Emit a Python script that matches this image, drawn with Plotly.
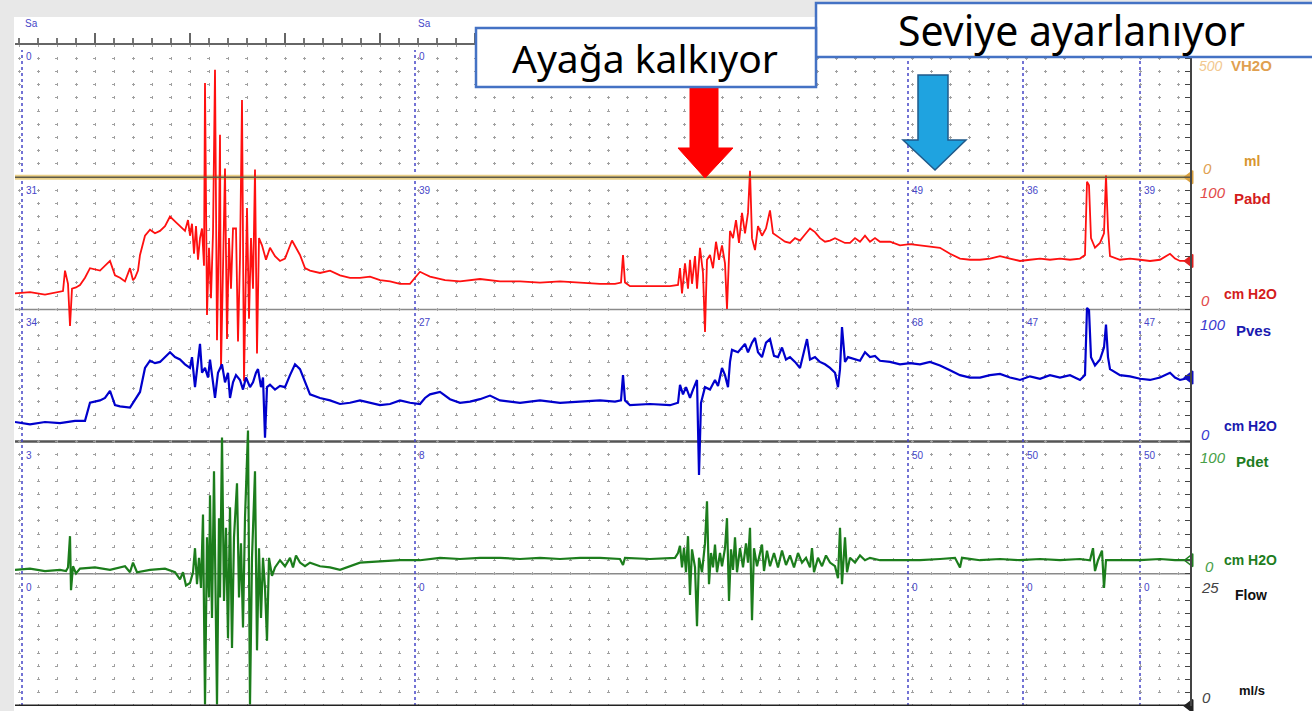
import plotly.graph_objects as go

# ---- data (time in s, pressures in cm H2O) ----
pabd_t = [1.5, 3.0, 4.5, 6.0, 6.3, 6.5, 6.8, 7.0, 7.2, 7.6,
          8.0, 8.5, 9.0, 10.0, 10.5, 11.0, 11.5, 12.0, 12.5, 12.8,
          13.0, 13.3, 13.5, 13.8, 14.0, 14.5, 15.0, 15.5, 16.0, 16.5,
          17.0, 17.5, 18.0, 18.5, 18.8, 19.0, 19.2, 19.4, 19.6, 19.8,
          20.0, 20.2, 20.4, 20.5, 20.7, 20.9, 21.1, 21.3, 21.5, 21.7,
          21.9, 22.0, 22.1, 22.3, 22.5, 22.7, 22.9, 23.1, 23.3, 23.6,
          23.8, 24.0, 24.2, 24.4, 24.6, 24.7, 24.9, 25.1, 25.3, 25.5,
          25.7, 25.9, 26.2, 26.6, 27.0, 27.5, 28.0, 28.5, 29.2, 29.6,
          30.0, 30.5, 31.0, 32.0, 33.0, 34.0, 35.0, 36.0, 37.0, 38.0,
          39.0, 40.0, 41.0, 41.5, 42.0, 42.5, 43.0, 44.5, 46.0, 48.0,
          50.0, 52.0, 54.0, 56.0, 58.0, 60.0, 61.5, 62.1, 62.3, 62.5,
          63.0, 65.0, 67.0, 67.8, 68.0, 68.2, 68.5, 68.8, 69.0, 69.2,
          69.5, 69.7, 70.0, 70.3, 70.5, 70.7, 71.0, 71.3, 71.6, 71.9,
          72.2, 72.5, 72.7, 73.0, 73.3, 73.6, 73.9, 74.2, 74.5, 74.8,
          75.0, 75.2, 75.5, 75.8, 76.2, 76.6, 77.0, 77.3, 77.6, 78.0,
          78.5, 79.0, 79.5, 80.0, 80.5, 81.0, 81.5, 82.0, 82.5, 83.0,
          83.5, 84.0, 84.5, 85.0, 85.5, 86.0, 86.5, 87.0, 87.5, 88.0,
          89.0, 90.0, 91.0, 92.0, 93.0, 94.0, 95.0, 96.0, 97.0, 98.0,
          99.0, 100.0, 101.0, 102.0, 103.0, 104.0, 105.0, 106.0, 107.0, 108.0,
          108.5, 108.7, 108.9, 109.1, 109.5, 110.0, 110.4, 110.6, 110.8, 111.0,
          112.0, 113.0, 114.0, 115.0, 116.0, 117.0, 117.5, 118.0, 119.0]
pabd = [5, 6, 4, 6, 7, 24, 13, -22, 9, 10,
        12, 18, 26, 24, 28, 32, 20, 18, 15, 22,
        26, 16, 18, 24, 37, 53, 58, 55, 57, 61,
        69, 65, 61, 57, 66, 53, 63, 38, 61, 33,
        51, 59, 28, 180, -13, 43, 1, 55, 191, -34,
        59, 137, -58, 43, 109, -33, 51, 9, 59, 59,
        -35, 34, 166, -68, 43, 76, -16, 51, 9, 108,
        -45, 51, 45, 33, 43, 36, 32, 34, 49, 43,
        37, 26, 24, 22, 24, 20, 18, 18, 19, 16,
        15, 13, 13, 18, 23, 21, 19, 16, 15, 17,
        15, 15, 14, 15, 14, 13, 13, 14, 37, 14,
        11, 11, 11, 12, 26, 5, 30, 9, 33, 13,
        36, 9, 43, 22, -27, 33, 37, 26, 48, 33,
        45, 30, -8, 57, 51, 66, 47, 72, 55, 72,
        107, 51, 41, 61, 53, 59, 74, 55, 53, 51,
        48, 47, 51, 49, 54, 59, 56, 51, 48, 49,
        51, 49, 47, 47, 51, 48, 53, 48, 51, 48,
        48, 45, 46, 45, 44, 43, 38, 34, 33, 33,
        34, 36, 34, 32, 33, 34, 33, 34, 33, 34,
        37, 98, 95, 51, 43, 47, 55, 103, 59, 36,
        33, 34, 33, 32, 33, 38, 34, 32, 32]

pves_t = [1.5, 3.0, 4.5, 6.0, 7.5, 8.5, 9.0, 10.0, 10.5, 11.0,
          11.5, 12.0, 13.0, 13.5, 14.0, 14.5, 15.0, 15.5, 16.0, 17.0,
          17.5, 18.0, 18.5, 19.0, 19.2, 19.5, 19.8, 20.0, 20.2, 20.5,
          20.8, 21.0, 21.3, 21.5, 21.8, 22.2, 22.5, 22.8, 23.0, 23.3,
          23.6, 24.0, 24.3, 24.6, 25.0, 25.3, 25.6, 25.8, 26.1, 26.3,
          26.5, 26.7, 27.0, 27.5, 28.0, 28.5, 29.0, 29.5, 30.0, 30.5,
          31.0, 32.0, 33.0, 34.0, 35.0, 36.0, 37.0, 38.0, 39.0, 40.0,
          41.0, 42.0, 42.5, 43.0, 44.0, 45.0, 46.0, 47.0, 48.0, 49.0,
          50.0, 52.0, 54.0, 56.0, 58.0, 60.0, 61.5, 62.1, 62.3, 62.5,
          63.0, 65.0, 67.0, 67.8, 68.0, 68.3, 68.6, 69.0, 69.3, 69.7,
          69.9, 70.1, 70.5, 71.0, 71.5, 71.8, 72.2, 72.5, 72.8, 73.0,
          73.2, 73.8, 74.5, 74.8, 75.2, 75.5, 75.8, 76.2, 76.6, 77.0,
          77.4, 77.8, 78.2, 78.6, 79.0, 79.5, 80.0, 80.4, 80.7, 81.0,
          81.5, 82.0, 82.5, 83.0, 83.5, 83.8, 84.0, 84.2, 84.5, 84.8,
          85.5, 86.0, 86.5, 87.0, 87.5, 88.0, 89.0, 90.0, 91.0, 92.0,
          93.0, 94.0, 95.0, 96.0, 97.0, 98.0, 99.0, 100.0, 101.0, 102.0,
          103.0, 104.0, 105.0, 106.0, 107.0, 108.0, 108.5, 108.7, 108.9, 109.1,
          109.5, 110.0, 110.4, 110.6, 110.8, 111.0, 112.0, 113.0, 114.0, 115.0,
          116.0, 117.0, 117.5, 118.0, 119.0]
pves = [8, 6, 8, 7, 9, 9, 24, 26, 28, 34,
        22, 21, 20, 26, 33, 53, 59, 57, 58, 66,
        62, 60, 56, 53, 62, 37, 58, 73, 49, 53,
        45, 60, 41, 28, 49, 56, 41, 49, 28, 41,
        47, 43, 35, 45, 37, 41, 49, 52, 37, 45,
        -5, 37, 39, 35, 38, 37, 47, 56, 52, 41,
        31, 28, 26, 23, 24, 26, 24, 22, 23, 26,
        24, 23, 28, 31, 33, 27, 24, 25, 27, 30,
        26, 24, 26, 24, 25, 26, 25, 26, 47, 26,
        22, 23, 22, 24, 39, 31, 37, 28, 35, 43,
        -36, 24, 37, 35, 43, 38, 53, 47, 37, 58,
        68, 66, 73, 66, 74, 78, 66, 62, 74, 77,
        63, 62, 70, 60, 62, 58, 53, 66, 77, 60,
        62, 58, 56, 53, 49, 37, 52, 87, 58, 62,
        60, 59, 66, 62, 63, 59, 58, 56, 57, 56,
        58, 55, 51, 47, 45, 45, 47, 48, 45, 43,
        46, 44, 47, 45, 47, 43, 47, 103, 101, 62,
        55, 60, 70, 89, 62, 52, 47, 46, 44, 43,
        45, 49, 45, 43, 45]

pdet_t = [1.5, 3.0, 4.5, 6.0, 6.6, 6.8, 7.0, 7.1, 7.3, 7.6,
          8.0, 9.5, 11.0, 12.5, 13.0, 13.3, 13.7, 15.0, 16.5, 17.5,
          18.0, 18.3, 18.6, 19.0, 19.3, 19.5, 19.7, 19.9, 20.1, 20.3,
          20.5, 20.7, 20.9, 21.0, 21.2, 21.4, 21.7, 21.9, 22.0, 22.2,
          22.4, 22.6, 22.8, 23.0, 23.2, 23.4, 23.7, 23.9, 24.1, 24.3,
          24.5, 24.8, 25.0, 25.2, 25.5, 25.7, 25.9, 26.1, 26.3, 26.5,
          26.7, 26.9, 27.2, 27.5, 28.0, 28.5, 29.0, 29.3, 29.6, 30.0,
          30.5, 31.0, 32.0, 33.0, 34.0, 35.0, 36.0, 38.0, 40.0, 42.0,
          44.0, 46.0, 48.0, 50.0, 52.0, 54.0, 56.0, 58.0, 60.0, 62.0,
          62.3, 62.5, 65.0, 67.5, 67.8, 68.0, 68.2, 68.4, 68.6, 68.8,
          69.0, 69.2, 69.5, 69.7, 69.9, 70.2, 70.5, 70.7, 70.9, 71.1,
          71.3, 71.5, 71.7, 72.0, 72.2, 72.5, 72.7, 72.9, 73.1, 73.3,
          73.5, 73.7, 74.0, 74.3, 74.6, 74.8, 75.0, 75.2, 75.4, 75.7,
          76.0, 76.2, 76.4, 76.7, 77.0, 77.4, 77.8, 78.2, 78.6, 79.0,
          79.4, 79.8, 80.2, 80.6, 81.0, 81.2, 81.4, 81.8, 82.2, 82.6,
          83.0, 83.5, 83.8, 84.0, 84.2, 84.5, 84.7, 85.0, 85.5, 86.0,
          86.5, 87.0, 88.0, 89.0, 90.0, 92.0, 94.0, 95.5, 96.0, 96.2,
          98.0, 100.0, 102.0, 104.0, 106.0, 108.0, 109.0, 109.3, 109.5, 109.8,
          110.2, 110.4, 110.6, 112.0, 114.0, 116.0, 117.5, 119.0]
pdet = [-5, -4, -6, -5, -6, -3, 23, -22, -2, -8,
        -4, -3, -5, -2, -7, 1, -7, -5, -4, -7,
        -13, -7, -18, -16, -7, 13, -17, 5, -20, 41,
        -117, 22, -28, 57, -45, 77, -117, 38, -28, 105,
        -31, 30, -62, 47, -70, 22, 67, -28, 17, -53,
        38, 111, -117, 5, 77, -72, 13, -45, 5, -20,
        -64, 5, -10, -3, 3, -2, 5, -3, 7, 1,
        -2, 1, -2, -3, -5, -2, 1, 2, 3, 3,
        5, 4, 5, 5, 4, 5, 4, 5, 5, 4,
        -1, 5, 4, 5, 9, 15, -3, 13, -7, 23,
        -26, 12, -3, -52, 5, -7, 17, 52, -17, 9,
        -3, 16, -7, 9, -2, 13, 38, -31, 12, -5,
        22, -7, 13, -3, 17, 1, 30, -47, 13, -2,
        9, 16, -6, 11, -2, 9, -3, 11, -1, 7,
        -3, 9, 1, 5, -3, 13, -7, 5, -2, 7,
        1, -2, -12, 30, -17, 22, -7, 5, 1, 7,
        3, 5, 3, 3, 3, 3, 4, 5, -3, 5,
        3, 4, 3, 4, 3, 4, 3, 13, -6, 3,
        11, -20, 3, 3, 3, 4, 3, 3]

vol_t = [1.5, 119.0]
vol = [0, 0]
flow_t = [1.5, 119.0]
flow = [0, 0]

# event markers and the values printed at each of them
event_t = [2.2, 41.5, 90.8, 102.3, 114.0]
evt_vol = ["0", "0"]
evt_pabd = ["31", "39", "49", "36", "39"]
evt_pves = ["34", "27", "68", "47", "47"]
evt_pdet = ["3", "8", "50", "50", "50"]
evt_flow = ["0", "0", "0", "0", "0"]

# ---- strip layout: five stacked channels on one y axis ----
STRIP = 110
ZERO = 8.3
base = {"flow": 0, "pdet": 110, "pves": 220, "pabd": 330, "vol": 440}


def place(vals, ch, zero=ZERO):
    return [base[ch] + zero + v for v in vals]


# pixel -> paper helpers for the decorations
L, R, T, B = 15, 1190, 45, 706


def fx(p):
    return (p - L) / (R - L)


def fy(p):
    return (B - p) / (B - T)


fig = go.Figure()

fig.add_trace(go.Scatter(x=vol_t, y=place(vol, "vol", 0), mode="lines",
                         line=dict(color="#ead089", width=5), hoverinfo="skip"))
fig.add_trace(go.Scatter(x=pabd_t, y=place(pabd, "pabd"), mode="lines",
                         line=dict(color="#ff1010", width=1.8), hoverinfo="skip"))
fig.add_trace(go.Scatter(x=pves_t, y=place(pves, "pves"), mode="lines",
                         line=dict(color="#0000cc", width=2.2), hoverinfo="skip"))
fig.add_trace(go.Scatter(x=pdet_t, y=place(pdet, "pdet"), mode="lines",
                         line=dict(color="#1c7d1c", width=2.2), hoverinfo="skip"))
fig.add_trace(go.Scatter(x=flow_t, y=place(flow, "flow", 0), mode="lines",
                         line=dict(color="#222222", width=3), hoverinfo="skip",
                         cliponaxis=False))

# current-value markers at the right edge
for tt, vv, ch, col, sym, z in [(vol_t, vol, "vol", "#d9a040", "triangle-left", 0),
                                (pabd_t, pabd, "pabd", "#e02020", "triangle-left", ZERO),
                                (pves_t, pves, "pves", "#1010c0", "triangle-left", ZERO),
                                (pdet_t, pdet, "pdet", "#208020", "triangle-left-open", ZERO),
                                (flow_t, flow, "flow", "#222222", "triangle-left", 0)]:
    fig.add_trace(go.Scatter(x=[tt[-1]], y=place([vv[-1]], ch, z), mode="markers",
                             marker=dict(symbol=sym, size=11, color=col,
                                         line=dict(color=col, width=1.5)),
                             cliponaxis=False, hoverinfo="skip"))

shapes = []
# grey slide margins
shapes.append(dict(type="rect", xref="paper", yref="paper", x0=fx(0), x1=fx(14),
                   y0=fy(711), y1=fy(0), fillcolor="#e8e8e8", line=dict(width=0), layer="above"))
shapes.append(dict(type="rect", xref="paper", yref="paper", x0=fx(0), x1=fx(1312),
                   y0=fy(17), y1=fy(0), fillcolor="#e8e8e8", line=dict(width=0), layer="above"))

# strip boundaries
for yv, col, w, lay in [(110, "#8a8a8a", 1.5, "between"), (220, "#555555", 2.5, "between"),
                        (330, "#8a8a8a", 1.5, "between"), (440, "#5e5a48", 1.6, "above")]:
    shapes.append(dict(type="line", xref="paper", yref="y", x0=0, x1=1, y0=yv, y1=yv,
                       line=dict(color=col, width=w), layer=lay))

# event lines
for e in event_t:
    shapes.append(dict(type="line", xref="x", yref="paper", x0=e, x1=e, y0=0, y1=fy(50),
                       line=dict(color="#4646c8", width=1.5, dash="dot"), layer="between"))


def poly(pts):
    return "M " + " L ".join(f"{fx(a):.5f},{fy(b):.5f}" for a, b in pts) + " Z"


# arrows
shapes.append(dict(type="path", xref="paper", yref="paper",
                   path=poly([(690, 86), (718, 86), (718, 148), (733, 148), (705, 178),
                              (678, 148), (690, 148)]),
                   fillcolor="#ff0000", line=dict(color="#ff0000", width=1), layer="above"))
shapes.append(dict(type="path", xref="paper", yref="paper",
                   path=poly([(918, 75), (948, 75), (948, 140), (966, 140), (935, 170),
                              (903, 140), (918, 140)]),
                   fillcolor="#1fa3e0", line=dict(color="#1f5a8a", width=1.5), layer="above"))

# caption boxes
shapes.append(dict(type="rect", xref="paper", yref="paper", x0=fx(816), x1=fx(1330),
                   y0=fy(57), y1=fy(3), fillcolor="white",
                   line=dict(color="#4472c4", width=2.5), layer="above"))
shapes.append(dict(type="rect", xref="paper", yref="paper", x0=fx(476), x1=fx(816),
                   y0=fy(87), y1=fy(28), fillcolor="white",
                   line=dict(color="#4472c4", width=2.5), layer="above"))

ann = []


def label(txt, x, y, col, size, bold=False, italic=False, anchor="left", fam="Liberation Sans"):
    if bold:
        txt = f"<b>{txt}</b>"
    if italic:
        txt = f"<i>{txt}</i>"
    ann.append(dict(text=txt, x=fx(x), y=fy(y), xref="paper", yref="paper",
                    xanchor=anchor, yanchor="middle", showarrow=False,
                    font=dict(family=fam, size=size, color=col)))


label("Ayağa kalkıyor", 645, 58, "#000000", 39, anchor="center", fam="Noto Sans")
label("Seviye ayarlanıyor", 1071, 30, "#000000", 41, anchor="center", fam="Noto Sans")

# channel labels on the right
label("500", 1197, 66, "#f2c890", 14, italic=True)
label("VH2O", 1229, 66, "#e0a050", 15, bold=True)
label("ml", 1242, 161, "#d8962e", 14, bold=True)
label("0", 1201, 168, "#e0a050", 15, italic=True)
label("100", 1198, 193, "#e24a4a", 15, italic=True)
label("Pabd", 1232, 198, "#d41c1c", 15, bold=True)
label("0", 1199, 300, "#e24a4a", 15, italic=True)
label("cm H2O", 1222, 294, "#d41c1c", 14, bold=True)
label("100", 1198, 324, "#3a3ad0", 15, italic=True)
label("Pves", 1234, 330, "#1a1ab0", 15, bold=True)
label("0", 1199, 434, "#3a3ad0", 15, italic=True)
label("cm H2O", 1222, 426, "#1a1ab0", 14, bold=True)
label("100", 1198, 457, "#48a048", 15, italic=True)
label("Pdet", 1234, 462, "#1e7d1e", 15, bold=True)
label("0", 1203, 566, "#48a048", 15, italic=True)
label("cm H2O", 1222, 560, "#1e7d1e", 14, bold=True)
label("25", 1199, 587, "#444444", 15, italic=True)
label("Flow", 1233, 595, "#111111", 14, bold=True)
label("0", 1200, 697, "#444444", 15, italic=True)
label("ml/s", 1237, 690, "#111111", 13, bold=True)

# small event readouts
for e in [2.2, 41.5]:
    label("Sa", e * 10 + 1, 24, "#4646c8", 10)
for rows, ypx in [(evt_vol, 57), (evt_pabd, 190), (evt_pves, 322),
                  (evt_pdet, 455), (evt_flow, 587)]:
    for e, s in zip(event_t, rows):
        label(s, e * 10 + 2, ypx, "#4646c8", 10)

fig.update_layout(
    width=1312, height=711,
    margin=dict(l=L, r=1312 - R, t=T, b=711 - B),
    paper_bgcolor="white", plot_bgcolor="white",
    showlegend=False,
    shapes=shapes, annotations=ann,
    xaxis=dict(range=[1.5, 119.0], side="top", showline=True, linecolor="#666666",
               linewidth=1.5, ticks="outside", ticklen=10, tickwidth=1.5, tickcolor="#666666",
               tick0=0, dtick=9.5, showticklabels=False, zeroline=False,
               showgrid=True, gridcolor="#a0a0a0", gridwidth=1,
               griddash="1.5px,10.2px,1.5px,0px",
               minor=dict(tick0=0, dtick=1.9, ticks="outside", ticklen=5, tickcolor="#777777",
                          showgrid=True, gridcolor="#a0a0a0", gridwidth=1,
                          griddash="1.5px,10.2px,1.5px,0px")),
    yaxis=dict(range=[0, 5 * STRIP], side="right", showline=True, linecolor="#444444",
               linewidth=1.5, ticks="inside", ticklen=5, tickcolor="#444444",
               tick0=0, dtick=11, showticklabels=False, zeroline=False,
               showgrid=True, gridcolor="#a0a0a0", gridwidth=1,
               griddash="0px,2.5px,3px,13.5px"),
)

fig.write_html("out.html", config={"displayModeBar": False},
               post_script="document.body.style.margin='0px';document.body.style.overflow='hidden';")
